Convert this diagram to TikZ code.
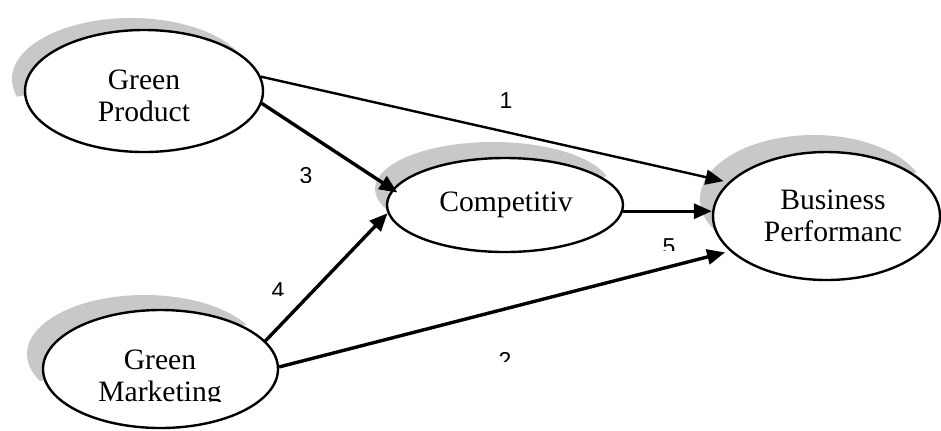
\documentclass[tikz,border=0pt]{standalone}
\usepackage{fontspec}
\setmainfont{Liberation Serif}
\newfontfamily\tagfont{Liberation Sans}
\usetikzlibrary{shapes.geometric,arrows.meta,backgrounds}
\definecolor{halogray}{RGB}{200,200,200}

\begin{document}
\begin{tikzpicture}[x=0.5pt, y=-0.5pt,
  bubble/.style={ellipse, draw, line width=1.2pt, fill=white, inner sep=0pt},
  caption/.style={font=\fontsize{14.8pt}{16pt}\selectfont, align=center, inner sep=0pt, anchor=north},
  link/.style={line width=1.7pt, -{Triangle[length=9pt,width=7.5pt]}},
  tag/.style={font=\tagfont\fontsize{11.5pt}{13pt}\selectfont, inner sep=0pt, anchor=base},
  halo/.style={fill=halogray}]
\useasboundingbox (0,0) rectangle (941,430);

% constructs
\node[bubble, minimum width=119pt, minimum height=61pt]  (gp)   at (144,91)    {};
\node[bubble, minimum width=118pt, minimum height=47pt]  (comp) at (505,205)   {};
\node[bubble, minimum width=113.5pt, minimum height=64pt](bp)   at (826.5,216) {};
\node[bubble, minimum width=117.5pt, minimum height=59pt](gm)   at (160.5,369) {};

\node[caption] (gpt)   at (144,69)  {Green\\Product};
\node[caption] (compt) at (506,191) {Competitiv};
\node[caption] (bpt)   at (833,189) {Business\\Performanc};
\begin{scope}
  \clip (40,330) rectangle (280,401);
  \node[caption] (gmt) at (160,349) {Green\\Marketing};
\end{scope}

% soft crescents behind the ellipses
\begin{scope}[on background layer]
  \begin{scope}
    \clip (-10,102) -- (300,42) -- (300,-10) -- (-10,-10) -- cycle;
    \fill[halo] ([shift={(-13,-12)}]gp.center) ellipse [x radius=59.5pt, y radius=30.5pt];
  \end{scope}
  \begin{scope}
    \clip (360,222) -- (630,172) -- (630,100) -- (360,100) -- cycle;
    \fill[halo] ([shift={(-12,-16)}]comp.center) ellipse [x radius=59pt, y radius=23.5pt];
  \end{scope}
  \begin{scope}
    \clip (690,238) -- (941,165) -- (941,100) -- (690,100) -- cycle;
    \fill[halo] ([shift={(-13,-17)}]bp.center) ellipse [x radius=56.75pt, y radius=32pt];
  \end{scope}
  \begin{scope}
    \clip (15,388) -- (285,314) -- (285,260) -- (15,260) -- cycle;
    \fill[halo] ([shift={(-16,-15)}]gm.center) ellipse [x radius=58.75pt, y radius=29.5pt];
  \end{scope}
\end{scope}

% paths
\draw[link, line width=1.2pt, shorten >=2.5pt] (gp.7) -- (bp.161);
\draw[link, shorten >=-3pt] (gp.-6) -- (comp.172);
\draw[link] (gm.15) -- (comp.-176);
\draw[link, shorten >=2.5pt] (gm.1) -- (bp.200);
\draw[link] (comp.-3.5) -- (comp.-3.5 -| bp.west);

% path numbers
\begin{scope}\clip (480,80) rectangle (530,111); \node[tag] (n1) at (506,108.5) {1};\end{scope}
\begin{scope}\clip (290,160) rectangle (320,182); \node[tag] (n3) at (306,183.5) {3};\end{scope}
\begin{scope}\clip (265,275) rectangle (292,295); \node[tag] (n4) at (278,298.5) {4};\end{scope}
\begin{scope}\clip (655,230) rectangle (685,250); \node[tag] (n5) at (669,254.5) {5};\end{scope}
\begin{scope}\clip (490,345) rectangle (520,361); \node[tag] (n2) at (505,368.5) {2};\end{scope}
\end{tikzpicture}
\end{document}
